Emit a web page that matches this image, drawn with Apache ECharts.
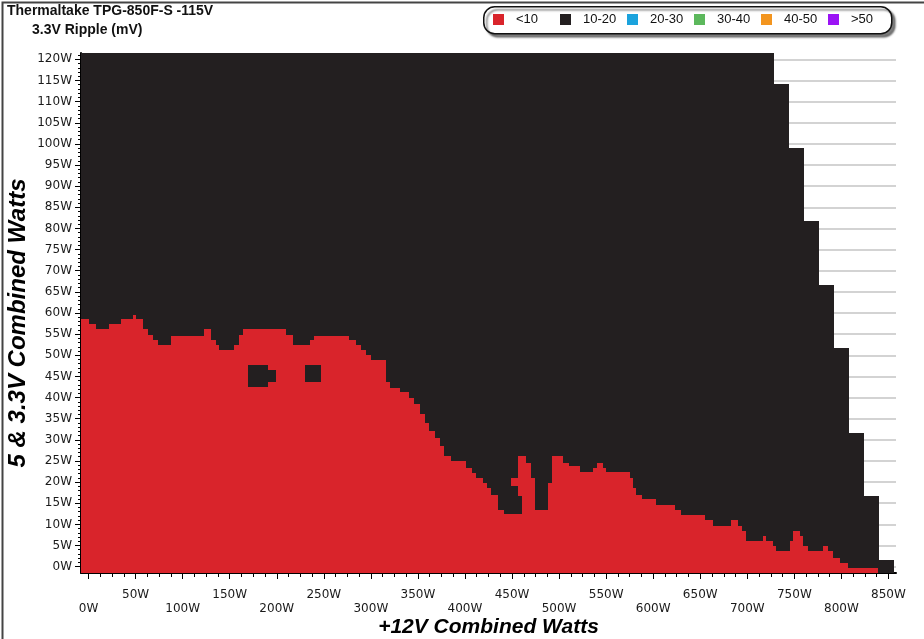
<!DOCTYPE html>
<html><head><meta charset="utf-8">
<script src="https://cdn.jsdelivr.net/npm/echarts@6/dist/echarts.min.js"></script>
<style>html,body{margin:0;padding:0;background:#fff}#c{width:924px;height:639px}</style>
</head><body><div id="c"></div><script>
// Legend categories (mV) and colours
const legendNames = ['<10', '10-20', '20-30', '30-40', '40-50', '>50'];
const legendColors = ['#d9242b', '#231f20', '#1ba3dd', '#5cb85c', '#f3951f', '#9b13f5'];

// Axis ticks
const xMajor = [0,50,100,150,200,250,300,350,400,450,500,550,600,650,700,750,800,850];
const xMinor = [12.5,25,37.5,62.5,75,87.5,112.5,125,137.5,162.5,175,187.5,212.5,225,237.5,262.5,275,287.5,312.5,325,337.5,362.5,375,387.5,412.5,425,437.5,462.5,475,487.5,512.5,525,537.5,562.5,575,587.5,612.5,625,637.5,662.5,675,687.5,712.5,725,737.5,762.5,775,787.5,812.5,825,837.5];
const yMajor = [0,5,10,15,20,25,30,35,40,45,50,55,60,65,70,75,80,85,90,95,100,105,110,115,120];
const yMinor = [1,2,3,4,6,7,8,9,11,12,13,14,16,17,18,19,21,22,23,24,26,27,28,29,31,32,33,34,36,37,38,39,41,42,43,44,46,47,48,49,51,52,53,54,56,57,58,59,61,62,63,64,66,67,68,69,71,72,73,74,76,77,78,79,81,82,83,84,86,87,88,89,91,92,93,94,96,97,98,99,101,102,103,104,106,107,108,109,111,112,113,114,116,117,118,119,121];

// Tested area (10-20 mV): column edges on +12V (W) and top of each column on 5&3.3V (W)
const envEdges = [-8, 728, 744, 760, 776, 792, 808, 824, 840, 856];
const envTops  = [121.5, 114.1, 99.1, 81.7, 66.6, 51.8, 31.6, 16.6, 1.5];

// <10 mV area: column edges (W) and tops (W)
const redEdges = [-8,1,8,22,35,47,50.5,57.5,63,68,73.5,88,123,130,135.5,139,155,160,164,210,217,235,240,277,284,290,295,300,316,320,330.5,341,346,352,357,362,368,373,378,385,401,407,412,419,423,428,435,442,449,456,465,470,474,488,492,504,511,522,536,540,547,550,575,579,582,588,603,623,630,655,664,683,690,694,699,717,720,727,731,745,749,756,759,765,780,786,791,798,807,839];
const redTops  = [58.5,57.4,56.3,57.3,58.5,59.6,58.5,56.3,54.9,53.5,52.4,54.5,56.1,53.5,52.4,51.2,52.4,54.9,56.1,54.8,52.4,53.5,54.5,53.5,52.4,51.2,50.0,48.8,43.7,42.3,41.3,39.9,38.5,36.1,34.0,32.0,30.5,28.5,26.1,24.9,23.4,22.2,21.0,19.8,18.6,17.0,13.5,12.5,21.0,26.1,24.5,21.0,13.5,19.8,26.1,24.5,23.7,22.4,23.4,24.5,23.4,22.3,21.0,18.6,17.0,16.0,14.7,13.5,12.3,11.1,9.7,11.1,9.7,8.4,6.0,7.2,6.0,4.8,3.6,6.0,8.4,7.2,4.8,3.6,4.8,3.6,2.1,0.9,-0.3];

// 10-20 mV islands inside the <10 area: [x0, x1, y0, y1]
const islands = [
  [169.2, 190.4, 42.4, 47.8],
  [190.4, 199.4, 43.7, 46.6],
  [230.5, 247.2, 43.7, 47.6],
  [449, 456, 12.5, 19.0],
  [456, 461, 12.5, 16.6]
];

const Y_MIN = -1.5, Y_MAX = 121.5, X_MIN = -8, X_MAX = 858;

function columns(edges, tops) {
  const out = [];
  for (let i = 0; i < tops.length; i++) out.push([edges[i], edges[i + 1], Y_MIN, tops[i]]);
  return out;
}

function renderRect(params, api) {
  const a = api.coord([api.value(0), api.value(3)]);
  const b = api.coord([api.value(1), api.value(2)]);
  const x0 = Math.round(a[0]), x1 = Math.round(b[0]);
  const y0 = Math.round(a[1]), y1 = Math.round(b[1]);
  return {
    type: 'rect',
    shape: { x: x0, y: y0, width: x1 - x0, height: y1 - y0 },
    style: { fill: api.visual('color') }
  };
}

function mk(name, color, data, z) {
  return {
    type: 'custom', name: name, renderItem: renderRect, data: data,
    xAxisIndex: 0, yAxisIndex: 0,
    encode: { x: [0, 1], y: [2, 3] }, itemStyle: { color: color }, z: z,
    clip: true, silent: true
  };
}

const axisFont = { fontFamily: 'DejaVu Sans', fontSize: 12, color: '#1a1a1a' };
const gridBox = { left: 81, top: 53, width: 815, height: 520, outerBoundsMode: 'none', containLabel: false };

// one legend per item so each sits at its own slot inside the shared box
const legends = legendNames.map((n, i) => ({
  data: [n], left: 493 + 67 * i, top: 13, padding: 0,
  itemWidth: 11, itemHeight: 11, icon: 'rect', z: 5,
  textStyle: { fontFamily: 'Liberation Sans', fontSize: 13, color: '#111', padding: [0, 0, 0, 7] }
}));

const chart = echarts.init(document.getElementById('c'), null, { renderer: 'canvas' });
chart.setOption({
  animation: false,
  backgroundColor: '#fff',
  title: [
    { text: 'Thermaltake TPG-850F-S -115V', left: 7, top: 4, padding: 0,
      textStyle: { fontFamily: 'Liberation Sans', fontSize: 14, fontWeight: 'bold', color: '#111' } },
    { text: '3.3V Ripple (mV)', left: 32, top: 23, padding: 0,
      textStyle: { fontFamily: 'Liberation Sans', fontSize: 14, fontWeight: 'bold', color: '#111' } }
  ],
  legend: legends,
  grid: [gridBox, Object.assign({}, gridBox)],
  xAxis: [
    { type: 'value', gridIndex: 0, min: X_MIN, max: X_MAX, position: 'bottom',
      name: '+12V Combined Watts', nameLocation: 'middle', nameGap: 44, nameMoveOverlap: false,
      nameTextStyle: { fontFamily: 'Liberation Sans', fontSize: 21, fontWeight: 'bold', fontStyle: 'italic', color: '#000' },
      axisLine: { show: true, onZero: false, lineStyle: { color: '#000', width: 2 } },
      axisTick: { show: true, customValues: xMajor, length: 6, lineStyle: { color: '#000', width: 1 } },
      axisLabel: Object.assign({ customValues: xMajor, margin: 15, lineHeight: 14,
        formatter: v => (v % 100 === 0 ? '\n' : '') + v + 'W' }, axisFont),
      splitLine: { show: false } },
    { type: 'value', gridIndex: 1, min: X_MIN, max: X_MAX, position: 'bottom',
      axisLine: { show: false, onZero: false },
      axisTick: { show: true, customValues: xMinor, length: 4, lineStyle: { color: '#000', width: 1 } },
      axisLabel: { show: false }, splitLine: { show: false } }
  ],
  yAxis: [
    { type: 'value', gridIndex: 0, min: Y_MIN, max: Y_MAX, position: 'left',
      name: '5 & 3.3V Combined Watts', nameLocation: 'middle', nameGap: 51, nameRotate: 90, nameMoveOverlap: false,
      nameTextStyle: { fontFamily: 'Liberation Sans', fontSize: 24, fontWeight: 'bold', fontStyle: 'italic', color: '#000',
        padding: [0, 20, 0, 0] },
      axisLine: { show: true, onZero: false, lineStyle: { color: '#000', width: 2 } },
      axisTick: { show: true, customValues: yMajor, length: 6, lineStyle: { color: '#000', width: 1 } },
      axisLabel: Object.assign({ customValues: yMajor, margin: 9, formatter: v => v + 'W' }, axisFont),
      splitLine: { show: true, lineStyle: { color: '#c4c4c4', width: 1.5 } } },
    { type: 'value', gridIndex: 1, min: Y_MIN, max: Y_MAX, position: 'left',
      axisLine: { show: false, onZero: false },
      axisTick: { show: true, customValues: yMinor, length: 3, lineStyle: { color: '#000', width: 1 } },
      axisLabel: { show: false }, splitLine: { show: false } }
  ],
  series: [
    mk(legendNames[1], legendColors[1], columns(envEdges, envTops), 2),
    mk(legendNames[0], legendColors[0], columns(redEdges, redTops), 3),
    mk(legendNames[1], legendColors[1], islands, 4),
    mk(legendNames[2], legendColors[2], [], 2),
    mk(legendNames[3], legendColors[3], [], 2),
    mk(legendNames[4], legendColors[4], [], 2),
    mk(legendNames[5], legendColors[5], [], 2)
  ],
  graphic: [
    { type: 'rect', left: 483, top: 6, z: 1, silent: true,
      shape: { width: 408, height: 27, r: 11 },
      style: { fill: '#fff', stroke: '#111', lineWidth: 1.5,
        shadowColor: 'rgba(0,0,0,0.5)', shadowBlur: 2, shadowOffsetX: 3, shadowOffsetY: 3 } },
    { type: 'rect', left: 0, top: 0, shape: { width: 923, height: 638 }, z: 100, silent: true,
      style: { fill: 'none', stroke: '#444', lineWidth: 2 } }
  ]
});
</script></body></html>
